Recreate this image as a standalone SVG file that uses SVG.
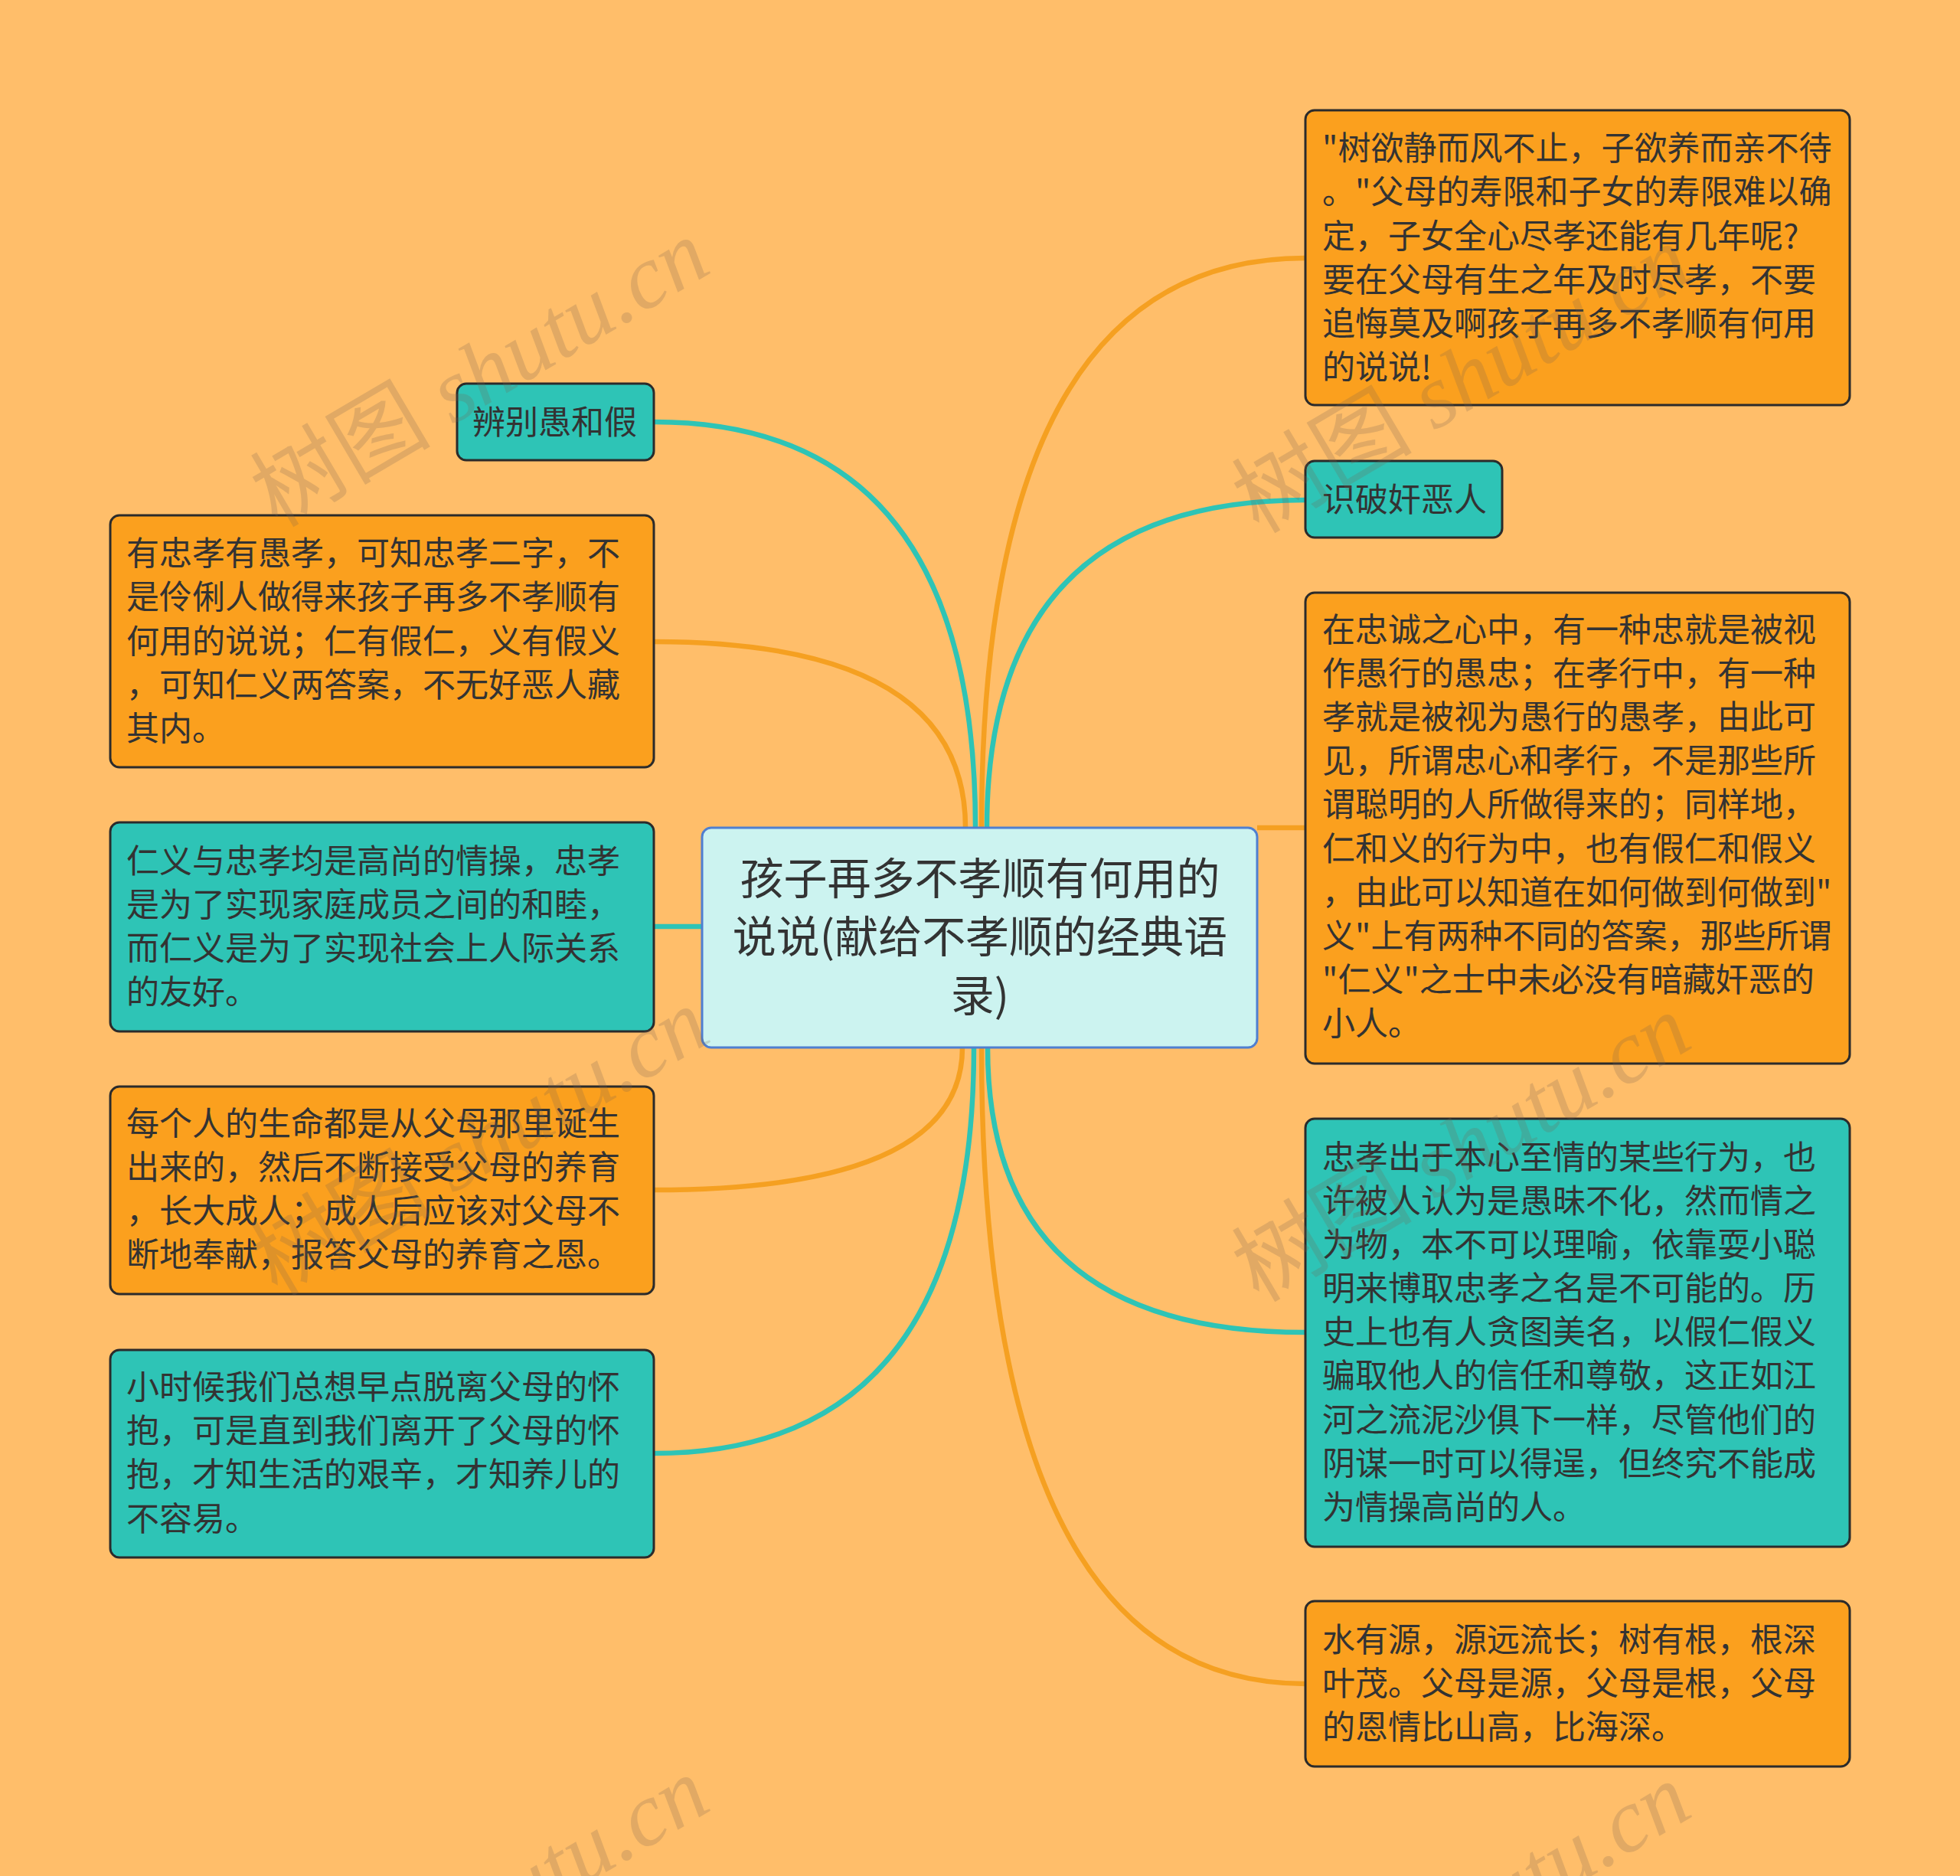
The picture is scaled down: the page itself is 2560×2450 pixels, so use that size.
<svg xmlns="http://www.w3.org/2000/svg" width="2560" height="2450" viewBox="0 0 2560 2450">
<style>
.bg{fill:#FFBE6A}
.o{fill:#FBA01E;stroke:#2b2b2b;stroke-width:3}
.t{fill:#2EC4B6;stroke:#2b2b2b;stroke-width:3}
.c{fill:#CCF3F0;stroke:#4F7FD0;stroke-width:3}
.tx{font-family:"Noto Sans CJK SC","Noto Sans",sans-serif;font-size:43px;fill:#333333}
.ct{font-family:"Noto Sans CJK SC","Noto Sans",sans-serif;font-size:57px;fill:#333333;text-anchor:middle}
.lo{fill:none;stroke:#F5A021;stroke-width:6.5}
.lt{fill:none;stroke:#2EC4B6;stroke-width:6.5}
.wm{font-family:"Liberation Serif","Noto Sans CJK SC",serif;font-size:118px;fill:#7a6450;opacity:0.22}
.it{font-style:italic}
</style>
<rect class="bg" x="0" y="0" width="2560" height="2450"/>
<g id="connectors">
<path class="lt" d="M1274,1081 Q1274,551 854,551"/>
<path class="lo" d="M1261,1081 Q1261,838 854,838"/>
<path class="lt" d="M917,1210 L854,1210"/>
<path class="lo" d="M1257,1368 Q1257,1554 854,1554"/>
<path class="lt" d="M1272,1368 Q1272,1898 854,1898"/>
<path class="lo" d="M1282,1081 Q1282,337 1705,337"/>
<path class="lt" d="M1289,1081 Q1289,653 1705,653"/>
<path class="lo" d="M1642,1081 L1705,1081"/>
<path class="lt" d="M1290,1368 Q1290,1740 1705,1740"/>
<path class="lo" d="M1282,1368 Q1282,2199 1705,2199"/>
</g>
<g id="center">
<rect class="c" x="917" y="1081" width="725" height="287" rx="12"/>
<text class="ct"><tspan x="1280" y="1168">孩子再多不孝顺有何用的</tspan><tspan x="1280" y="1244">说说(献给不孝顺的经典语</tspan><tspan x="1280" y="1321">录)</tspan></text>
</g>
<g id="n-bianbie">
<rect class="t" x="597" y="501" width="257" height="100" rx="12"/>
<text class="tx" x="617" y="567">辨别愚和假</text>
</g>
<g id="n-l2">
<rect class="o" x="144" y="673" width="710" height="329" rx="12"/>
<text class="tx"><tspan x="165" y="738">有忠孝有愚孝，可知忠孝二字，不</tspan><tspan x="165" y="795">是伶俐人做得来孩子再多不孝顺有</tspan><tspan x="165" y="853">何用的说说；仁有假仁，义有假义</tspan><tspan x="165" y="910">，可知仁义两答案，不无好恶人藏</tspan><tspan x="165" y="967">其内。</tspan></text>
</g>
<g id="n-l3">
<rect class="t" x="144" y="1074" width="710" height="273" rx="12"/>
<text class="tx"><tspan x="165" y="1140">仁义与忠孝均是高尚的情操，忠孝</tspan><tspan x="165" y="1197">是为了实现家庭成员之间的和睦，</tspan><tspan x="165" y="1254">而仁义是为了实现社会上人际关系</tspan><tspan x="165" y="1311">的友好。</tspan></text>
</g>
<g id="n-l4">
<rect class="o" x="144" y="1419" width="710" height="271" rx="12"/>
<text class="tx"><tspan x="165" y="1483">每个人的生命都是从父母那里诞生</tspan><tspan x="165" y="1540">出来的，然后不断接受父母的养育</tspan><tspan x="165" y="1597">，长大成人；成人后应该对父母不</tspan><tspan x="165" y="1654">断地奉献，报答父母的养育之恩。</tspan></text>
</g>
<g id="n-l5">
<rect class="t" x="144" y="1763" width="710" height="271" rx="12"/>
<text class="tx"><tspan x="165" y="1827">小时候我们总想早点脱离父母的怀</tspan><tspan x="165" y="1884">抱，可是直到我们离开了父母的怀</tspan><tspan x="165" y="1941">抱，才知生活的艰辛，才知养儿的</tspan><tspan x="165" y="1999">不容易。</tspan></text>
</g>
<g id="n-r1">
<rect class="o" x="1705" y="144" width="711" height="385" rx="12"/>
<text class="tx"><tspan x="1727" y="209">"树欲静而风不止，子欲养而亲不待</tspan><tspan x="1727" y="266">。"父母的寿限和子女的寿限难以确</tspan><tspan x="1727" y="324">定，子女全心尽孝还能有几年呢?</tspan><tspan x="1727" y="381">要在父母有生之年及时尽孝，不要</tspan><tspan x="1727" y="438">追悔莫及啊孩子再多不孝顺有何用</tspan><tspan x="1727" y="495">的说说!</tspan></text>
</g>
<g id="n-shipo">
<rect class="t" x="1705" y="602" width="257" height="100" rx="12"/>
<text class="tx" x="1727" y="668">识破奸恶人</text>
</g>
<g id="n-r3">
<rect class="o" x="1705" y="774" width="711" height="615" rx="12"/>
<text class="tx"><tspan x="1727" y="838">在忠诚之心中，有一种忠就是被视</tspan><tspan x="1727" y="895">作愚行的愚忠；在孝行中，有一种</tspan><tspan x="1727" y="952">孝就是被视为愚行的愚孝，由此可</tspan><tspan x="1727" y="1009">见，所谓忠心和孝行，不是那些所</tspan><tspan x="1727" y="1066">谓聪明的人所做得来的；同样地，</tspan><tspan x="1727" y="1124">仁和义的行为中，也有假仁和假义</tspan><tspan x="1727" y="1181">，由此可以知道在如何做到何做到"</tspan><tspan x="1727" y="1238">义"上有两种不同的答案，那些所谓</tspan><tspan x="1727" y="1295">"仁义"之士中未必没有暗藏奸恶的</tspan><tspan x="1727" y="1352">小人。</tspan></text>
</g>
<g id="n-r4">
<rect class="t" x="1705" y="1461" width="711" height="559" rx="12"/>
<text class="tx"><tspan x="1727" y="1527">忠孝出于本心至情的某些行为，也</tspan><tspan x="1727" y="1584">许被人认为是愚昧不化，然而情之</tspan><tspan x="1727" y="1641">为物，本不可以理喻，依靠耍小聪</tspan><tspan x="1727" y="1698">明来博取忠孝之名是不可能的。历</tspan><tspan x="1727" y="1755">史上也有人贪图美名，以假仁假义</tspan><tspan x="1727" y="1812">骗取他人的信任和尊敬，这正如江</tspan><tspan x="1727" y="1870">河之流泥沙俱下一样，尽管他们的</tspan><tspan x="1727" y="1927">阴谋一时可以得逞，但终究不能成</tspan><tspan x="1727" y="1984">为情操高尚的人。</tspan></text>
</g>
<g id="n-r5">
<rect class="o" x="1705" y="2091" width="711" height="216" rx="12"/>
<text class="tx"><tspan x="1727" y="2157">水有源，源远流长；树有根，根深</tspan><tspan x="1727" y="2214">叶茂。父母是源，父母是根，父母</tspan><tspan x="1727" y="2271">的恩情比山高，比海深。</tspan></text>
</g>
<g id="watermarks">
<text class="wm" transform="translate(362,690) rotate(-30.5)">树图 <tspan class="it">shutu.cn</tspan></text>
<text class="wm" transform="translate(1644,698) rotate(-30.5)">树图 <tspan class="it">shutu.cn</tspan></text>
<text class="wm" transform="translate(362,1694) rotate(-30.5)">树图 <tspan class="it">shutu.cn</tspan></text>
<text class="wm" transform="translate(1644,1702) rotate(-30.5)">树图 <tspan class="it">shutu.cn</tspan></text>
<text class="wm" transform="translate(362,2698) rotate(-30.5)">树图 <tspan class="it">shutu.cn</tspan></text>
<text class="wm" transform="translate(1644,2706) rotate(-30.5)">树图 <tspan class="it">shutu.cn</tspan></text>
</g>
</svg>
